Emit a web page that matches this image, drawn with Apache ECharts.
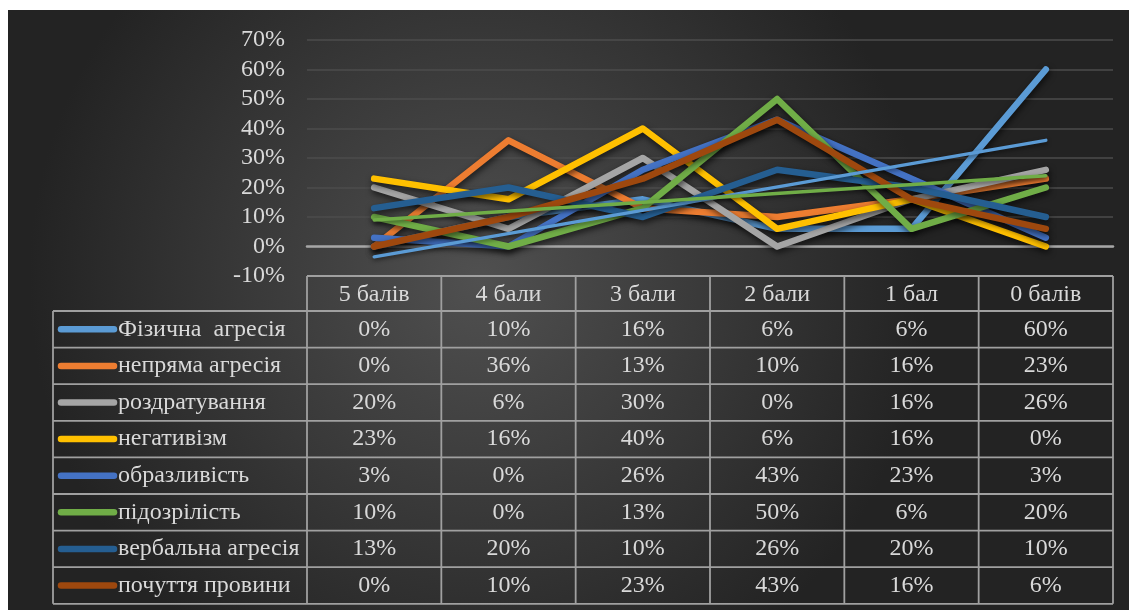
<!DOCTYPE html>
<html>
<head>
<meta charset="utf-8">
<script src="https://cdn.jsdelivr.net/npm/echarts@6/dist/echarts.min.js"></script>
<style>
html,body{margin:0;padding:0;background:#fff;}
#chart{width:1129px;height:610px;}
</style>
</head>
<body>
<div id="chart"></div>
<script>
// ---- data ----
var categories = ['5 балів', '4 бали', '3 бали', '2 бали', '1 бал', '0 балів'];
var seriesNames = ['Фізична  агресія', 'непряма агресія', 'роздратування', 'негативізм', 'образливість', 'підозрілість', 'вербальна агресія', 'почуття провини'];
var physical   = [0, 10, 16, 6, 6, 60];
var indirect   = [0, 36, 13, 10, 16, 23];
var irritation = [20, 6, 30, 0, 16, 26];
var negativism = [23, 16, 40, 6, 16, 0];
var resentment = [3, 0, 26, 43, 23, 3];
var suspicion  = [10, 0, 13, 50, 6, 20];
var verbal     = [13, 20, 10, 26, 20, 10];
var guilt      = [0, 10, 23, 43, 16, 6];
// trend lines: endpoints
var physicalTrend  = [-3.5, null, null, null, null, 36];
var suspicionTrend = [9, null, null, null, null, 24];
var yTicks = [-10, 0, 10, 20, 30, 40, 50, 60, 70];

var allValues = [physical, indirect, irritation, negativism, resentment, suspicion, verbal, guilt];
var colors = ['#5B9BD5', '#ED7D31', '#A5A5A5', '#FFC000', '#4472C4', '#70AD47', '#255E91', '#9E480E'];

// ---- layout ----
var W = 1129, H = 610;
var plotL = 307, plotR = 1113, plotT = 40, plotB = 276;
var tableL = 53, headerB = 311, rowH = 36.6;
var textColor = '#d9d9d9';
var font = '24px "Liberation Serif", "Times New Roman", serif';
var borderColor = '#a0a0a0';

var chart = echarts.init(document.getElementById('chart'), null, {renderer: 'canvas'});

var series = allValues.map(function (vals, i) {
  return {
    name: seriesNames[i], type: 'line', data: vals, showSymbol: false, symbol: 'none',
    z: 3 + i,
    lineStyle: {color: colors[i], width: 6.5, cap: 'round', join: 'round',
      shadowColor: 'rgba(0,0,0,0.65)', shadowBlur: 6, shadowOffsetX: 1, shadowOffsetY: 3}
  };
});
[[physicalTrend, colors[0]], [suspicionTrend, colors[5]]].forEach(function (t, k) {
  series.push({
    name: 'trend' + k, type: 'line', data: t[0], connectNulls: true, showSymbol: false, symbol: 'none',
    z: 20,
    lineStyle: {color: t[1], width: 3.4, cap: 'round',
      shadowColor: 'rgba(0,0,0,0.5)', shadowBlur: 4, shadowOffsetY: 2}
  });
});

// ---- data table (graphic) ----
var g = [];
g.push({type: 'rect', z: -10, silent: true,
  shape: {x: 8, y: 10, width: W - 8, height: H - 10},
  style: {fill: new echarts.graphic.RadialGradient(0.42, 0.45, 0.75, [
    {offset: 0, color: '#505050'}, {offset: 1, color: '#232323'}])}});
var colW = (plotR - plotL) / categories.length;
var nRows = seriesNames.length;
var tableB = headerB + rowH * nRows;
function ln(x1, y1, x2, y2) {
  g.push({type: 'line', z: 50, silent: true, shape: {x1: x1, y1: y1, x2: x2, y2: y2},
    style: {stroke: borderColor, lineWidth: 1.8}});
}
function txt(s, x, y, align) {
  g.push({type: 'text', z: 51, silent: true,
    style: {text: s, x: x, y: y, fill: textColor, font: font,
      textAlign: align, textVerticalAlign: 'middle', align: align, verticalAlign: 'middle'}});
}
// horizontal lines
ln(plotL, plotB, plotR, plotB);
for (var r = 0; r <= nRows; r++) ln(tableL, headerB + r * rowH, plotR, headerB + r * rowH);
// vertical lines
ln(tableL, headerB, tableL, tableB);
for (var c = 0; c <= categories.length; c++) ln(plotL + c * colW, plotB, plotL + c * colW, tableB);
// header
categories.forEach(function (cat, c) { txt(cat, plotL + (c + 0.5) * colW, (plotB + headerB) / 2 + 1, 'center'); });
// rows
seriesNames.forEach(function (name, r) {
  var cy = headerB + (r + 0.5) * rowH;
  g.push({type: 'line', z: 51, silent: true, shape: {x1: 61, y1: cy, x2: 114, y2: cy},
    style: {stroke: colors[r], lineWidth: 6.5, lineCap: 'round'}});
  txt(name, 118, cy, 'left');
  allValues[r].forEach(function (v, c) { txt(v + '%', plotL + (c + 0.5) * colW, cy, 'center'); });
});

chart.setOption({
  backgroundColor: '#ffffff',
  animation: false,
  grid: {left: plotL, right: W - plotR, top: plotT, bottom: H - plotB, containLabel: false},
  xAxis: {type: 'category', data: categories, boundaryGap: true,
    axisLine: {show: true, onZero: true, lineStyle: {color: '#a6a6a6', width: 2.5}},
    axisTick: {show: false}, axisLabel: {show: false}, splitLine: {show: false}},
  yAxis: {type: 'value', min: yTicks[0], max: yTicks[yTicks.length - 1], interval: 10,
    axisLine: {show: false}, axisTick: {show: false},
    axisLabel: {formatter: '{value}%', color: textColor, fontSize: 24,
      fontFamily: '"Liberation Serif", "Times New Roman", serif', margin: 22},
    splitLine: {lineStyle: {color: '#4c4c4c', width: 1.6}}},
  series: series,
  graphic: {elements: g}
});
</script>
</body>
</html>
